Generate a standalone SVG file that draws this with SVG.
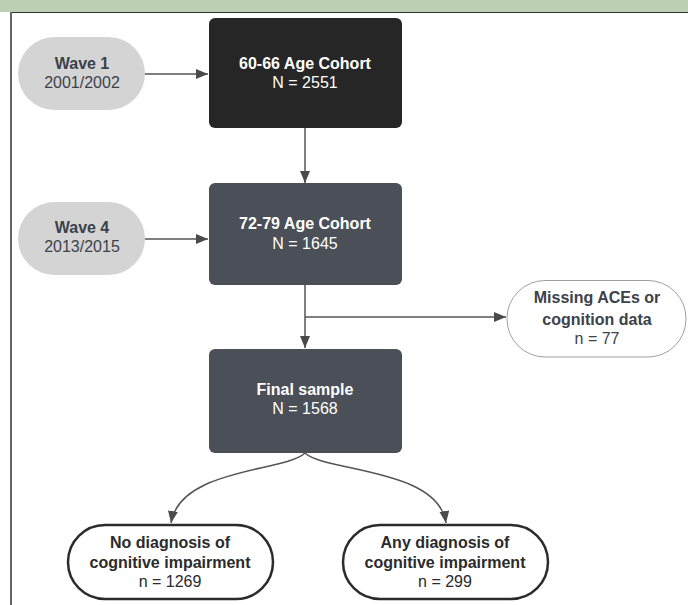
<svg xmlns="http://www.w3.org/2000/svg" width="688" height="605" viewBox="0 0 688 605">
  <defs>
    <marker id="ah" viewBox="0 0 12 10" refX="12" refY="5" markerWidth="12" markerHeight="10" markerUnits="userSpaceOnUse" orient="auto">
      <path d="M0,0 L12,5 L0,10 Z" fill="#4a4a4a"/>
    </marker>
    <style>
      .t { font-family: "Liberation Sans", Arial, sans-serif; font-size: 16px; text-anchor: middle; }
      .b { font-weight: bold; }
      .w { fill: #ffffff; }
      .g { fill: #3c414a; }
      .k { fill: #2b2b2b; }
      .pill { fill: #d4d4d4; }
      .dark { fill: #262626; }
      .slate { fill: #4b4f58; }
      .conn { fill: none; stroke: #555555; stroke-width: 1.5; marker-end: url(#ah); }
    </style>
  </defs>

  <rect x="0" y="0" width="688" height="605" fill="#ffffff"/>
  <rect x="0" y="0" width="688" height="12" fill="#bccfb3"/>
  <line x1="10" y1="12.5" x2="688" y2="12.5" stroke="#333333" stroke-width="1.2"/>
  <line x1="11" y1="12" x2="11" y2="605" stroke="#666666" stroke-width="2"/>

  <g id="connectors">
    <line class="conn" x1="145" y1="74" x2="208" y2="74"/>
    <line class="conn" x1="305" y1="128" x2="305" y2="183"/>
    <line class="conn" x1="145" y1="239" x2="208" y2="239"/>
    <line class="conn" x1="305" y1="285" x2="305" y2="348"/>
    <line class="conn" x1="305" y1="317" x2="506" y2="317"/>
    <path class="conn" d="M305,453 C285,472 180,468 171,523"/>
    <path class="conn" d="M305,453 C325,472 438,468 446,523"/>
  </g>

  <g id="wave1">
    <rect class="pill" x="18" y="37" width="127" height="73" rx="36.5"/>
    <text class="t b g" x="82" y="69">Wave 1</text>
    <text class="t g" x="82" y="88">2001/2002</text>
  </g>

  <g id="cohort6066">
    <rect class="dark" x="209" y="18" width="193" height="110" rx="6"/>
    <text class="t b w" x="305" y="69">60-66 Age Cohort</text>
    <text class="t w" x="305" y="88">N = 2551</text>
  </g>

  <g id="wave4">
    <rect class="pill" x="18" y="202" width="127" height="73" rx="36.5"/>
    <text class="t b g" x="82" y="233">Wave 4</text>
    <text class="t g" x="82" y="252">2013/2015</text>
  </g>

  <g id="cohort7279">
    <rect class="slate" x="209" y="183" width="193" height="102" rx="6"/>
    <text class="t b w" x="305" y="229">72-79 Age Cohort</text>
    <text class="t w" x="305" y="249">N = 1645</text>
  </g>

  <g id="missing">
    <rect x="507" y="280.5" width="179" height="76.5" rx="38" fill="#ffffff" stroke="#a0a0a0" stroke-width="1"/>
    <text class="t b g" x="597" y="303">Missing ACEs or</text>
    <text class="t b g" x="597" y="325">cognition data</text>
    <text class="t g" x="597" y="344">n = 77</text>
  </g>

  <g id="final">
    <rect class="slate" x="209" y="349" width="193" height="104" rx="6"/>
    <text class="t b w" x="305" y="395">Final sample</text>
    <text class="t w" x="305" y="414">N = 1568</text>
  </g>

  <g id="nodiag">
    <rect x="68" y="525" width="205" height="74" rx="37" fill="#ffffff" stroke="#2b2b2b" stroke-width="2.5"/>
    <text class="t b k" x="170" y="548">No diagnosis of</text>
    <text class="t b k" x="170" y="568">cognitive impairment</text>
    <text class="t k" x="170" y="587">n = 1269</text>
  </g>

  <g id="anydiag">
    <rect x="343" y="525" width="205" height="74" rx="37" fill="#ffffff" stroke="#2b2b2b" stroke-width="2.5"/>
    <text class="t b k" x="445" y="548">Any diagnosis of</text>
    <text class="t b k" x="445" y="568">cognitive impairment</text>
    <text class="t k" x="445" y="587">n = 299</text>
  </g>
</svg>
